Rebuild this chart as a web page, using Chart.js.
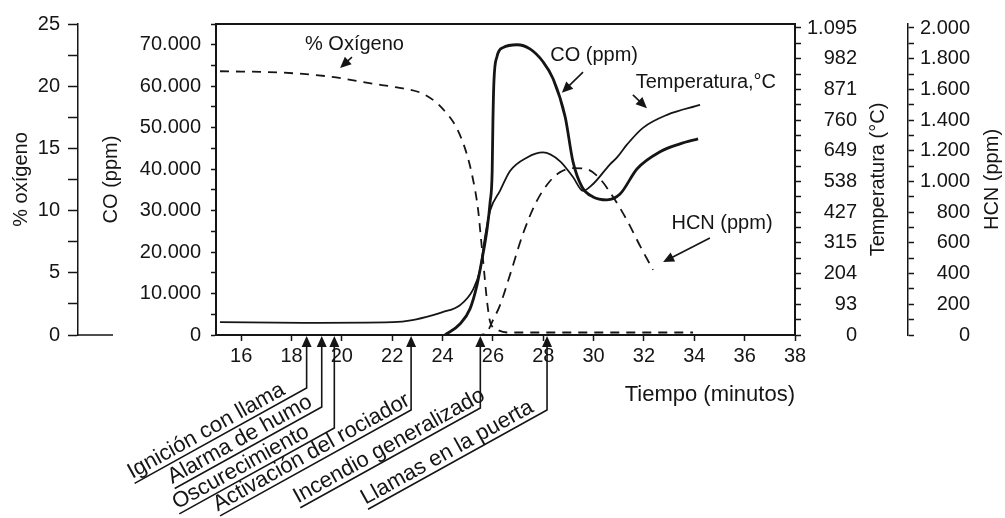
<!DOCTYPE html>
<html>
<head>
<meta charset="utf-8">
<script src="https://cdn.jsdelivr.net/npm/chart.js@4/dist/chart.umd.min.js"></script>
<style>
  html, body { margin: 0; padding: 0; background: #fff; }
  #wrap { width: 1005px; height: 518px; }
</style>
</head>
<body>
<div id="wrap"><canvas id="c" width="1005" height="518"></canvas></div>
<script>
// ---- data ---------------------------------------------------------------
// time axis (minutes)
const timeTicks = [16, 18, 20, 22, 24, 26, 28, 30, 32, 34, 36, 38];

// % oxygen
const o2Time   = [15.16, 17.54, 19.41, 21.24, 22.19, 23.1, 23.62, 24.0, 24.57, 24.97, 25.21, 25.41, 25.49, 25.61, 25.77, 25.89, 26.2, 26.6, 33.95];
const o2Values = [21.2, 21.1, 20.8, 20.2, 19.9, 19.5, 18.9, 18.2, 16.6, 14.5, 12.5, 10.1, 8.5, 6.0, 2.65, 1.05, 0.4, 0.2, 0.2];

// CO (ppm)
const coTime   = [24.1, 24.69, 25.09, 25.37, 25.57, 25.77, 25.89, 25.97, 26.0, 26.04, 26.16, 26.4, 26.96, 27.47, 27.99, 28.39, 28.87, 29.18, 29.54, 29.98, 30.53, 31.05, 31.73, 32.64, 33.43, 34.15];
const coValues = [0, 2650, 6300, 12100, 18300, 25600, 32100, 39300, 51400, 61100, 67100, 69300, 70000, 69000, 65900, 61800, 52600, 41800, 35700, 33300, 32600, 34000, 40100, 44200, 46100, 47300];

// temperature (ºC)
const tempTime   = [15.16, 18.5, 22.03, 22.8, 23.62, 24.0, 24.69, 25.21, 25.49, 25.69, 25.89, 26.28, 26.68, 27.36, 27.99, 28.67, 29.18, 29.58, 29.98, 30.65, 30.93, 31.33, 31.96, 32.92, 34.23];
const tempValues = [39, 37, 39, 45, 60, 69, 90, 146, 218, 339, 433, 504, 576, 625, 643, 611, 554, 504, 529, 600, 625, 672, 732, 779, 815];

// HCN (ppm)
const hcnTime   = [24.6, 25.5, 25.77, 26.0, 26.28, 26.68, 27.2, 27.75, 28.27, 28.67, 29.18, 29.74, 30.26, 30.77, 31.33, 31.85, 32.36];
const hcnValues = [0, 0, 20, 96, 193, 392, 662, 875, 1003, 1061, 1087, 1080, 1016, 900, 746, 579, 424];

// axis labels
const o2TickLabels   = [0, 5, 10, 15, 20, 25];
const coTickLabels   = [0, 10000, 20000, 30000, 40000, 50000, 60000, 70000];
const tempTicks      = [0, 93, 204, 315, 427, 538, 649, 760, 871, 982, 1095];
const hcnTickLabels  = [0, 200, 400, 600, 800, 1000, 1200, 1400, 1600, 1800, 2000];

// events along the time axis
const eventLabels = ['Ignición con llama', 'Alarma de humo', 'Oscurecimiento', 'Activación del rociador', 'Incendio generalizado', 'Llamas en la puerta'];
const eventTimes  = [18.6, 19.2, 19.7, 22.75, 25.5, 28.15];

// ---- helpers ------------------------------------------------------------
const FONT = "'Liberation Sans', Arial, Helvetica, sans-serif";
const INK = '#151515';

const fmt = v => String(Math.round(v)).replace(/\B(?=(\d{3})+(?!\d))/g, '.');
const near = (a, b) => Math.abs(a - b) < 1e-6;

// the temperature scale is evenly spaced between its labelled values
function tempPos(c) {
  for (let i = 1; i < tempTicks.length; i++) {
    if (c <= tempTicks[i]) return i - 1 + (c - tempTicks[i - 1]) / (tempTicks[i] - tempTicks[i - 1]);
  }
  return tempTicks.length - 1;
}

function tickList(from, to, step) {
  const out = [];
  for (let v = from; v <= to + 1e-9; v += step) out.push({ value: +v.toFixed(6) });
  return out;
}

const pts = (xs, ys, f = v => v) => xs.map((x, i) => ({ x, y: f(ys[i]) }));

const tickFont = { family: FONT, size: 20 };
const axisGrid = len => ({ drawOnChartArea: false, drawTicks: true, tickLength: len, color: INK, tickColor: INK, tickWidth: 1.5 });
const axisBorder = { display: true, color: INK, width: 2 };

// ---- in-chart labels with arrows (time, CO-scale height) ----------------
const notes = [
  { text: '% Oxígeno',       at: [20.5, 70000],  tail: [20.4, 67000],  head: [19.93, 64400] },
  { text: 'CO (ppm)',        at: [30.02, 67300], tail: [29.58, 63400], head: [28.74, 58400] },
  { text: 'Temperatura,°C',  at: [34.46, 60800], tail: [31.56, 57900], head: [32.12, 54700] },
  { text: 'HCN (ppm)',       at: [35.1, 26800],  tail: [34.62, 23400], head: [32.76, 17600] }
];
// leader geometry for the event labels (vertical drop, horizontal run)
const eventDrop = [53, 72, 93, 75, 73, 75];
const eventRun  = [172, 147, 155, 191, 180, 179];
const EVENT_ANGLE = 29 * Math.PI / 180;

function arrow(ctx, x0, y0, x1, y1, len = 10, half = 4.5) {
  const a = Math.atan2(y1 - y0, x1 - x0);
  ctx.beginPath();
  ctx.moveTo(x0, y0);
  ctx.lineTo(x1 - Math.cos(a) * len * 0.8, y1 - Math.sin(a) * len * 0.8);
  ctx.stroke();
  ctx.beginPath();
  ctx.moveTo(x1, y1);
  ctx.lineTo(x1 - Math.cos(a) * len - Math.sin(a) * half, y1 - Math.sin(a) * len + Math.cos(a) * half);
  ctx.lineTo(x1 - Math.cos(a) * len + Math.sin(a) * half, y1 - Math.sin(a) * len - Math.cos(a) * half);
  ctx.closePath();
  ctx.fill();
}

const decorations = {
  id: 'decorations',
  afterDraw(chart) {
    const { ctx, chartArea: area, scales } = chart;
    const { x, co, o2, temp, hcn } = scales;
    ctx.save();
    ctx.strokeStyle = INK;
    ctx.fillStyle = INK;

    // frame top
    ctx.lineWidth = 2;
    ctx.beginPath();
    ctx.moveTo(area.left - 1, area.top);
    ctx.lineTo(area.right + 1, area.top);
    ctx.stroke();

    // foot of the oxygen axis
    ctx.lineWidth = 1.5;
    ctx.beginPath();
    ctx.moveTo(o2.right, o2.bottom);
    ctx.lineTo(o2.right + 35, o2.bottom);
    ctx.stroke();

    // right-hand axis titles, reading upwards
    ctx.font = `20px ${FONT}`;
    ctx.textAlign = 'center';
    ctx.textBaseline = 'middle';
    const midY = (area.top + area.bottom) / 2;
    [[temp.right + 21, 'Temperatura (°C)'], [hcn.right + 22, 'HCN (ppm)']].forEach(([tx, t]) => {
      ctx.save();
      ctx.translate(tx, midY);
      ctx.rotate(-Math.PI / 2);
      ctx.fillText(t, 0, 0);
      ctx.restore();
    });

    // series labels with arrows
    ctx.lineWidth = 1.6;
    notes.forEach(n => {
      ctx.fillText(n.text, x.getPixelForValue(n.at[0]), co.getPixelForValue(n.at[1]));
      arrow(ctx, x.getPixelForValue(n.tail[0]), co.getPixelForValue(n.tail[1]),
                 x.getPixelForValue(n.head[0]), co.getPixelForValue(n.head[1]), 11, 5);
    });

    // events below the time axis
    ctx.font = `22px ${FONT}`;
    ctx.textAlign = 'left';
    ctx.textBaseline = 'alphabetic';
    ctx.lineWidth = 1.6;
    const base = area.bottom;
    eventTimes.forEach((t, i) => {
      const ex = x.getPixelForValue(t);
      const yTurn = base + eventDrop[i];
      const sx = ex - eventRun[i];
      const sy = yTurn + eventRun[i] * Math.tan(EVENT_ANGLE);
      ctx.beginPath();
      ctx.moveTo(ex, base + 10);
      ctx.lineTo(ex, yTurn);
      ctx.lineTo(sx, sy);
      ctx.stroke();
      ctx.beginPath();
      ctx.moveTo(ex, base + 1);
      ctx.lineTo(ex - 5, base + 12);
      ctx.lineTo(ex + 5, base + 12);
      ctx.closePath();
      ctx.fill();
      ctx.save();
      ctx.translate(sx, sy);
      ctx.rotate(-EVENT_ANGLE);
      ctx.fillText(eventLabels[i], 0, -5);
      ctx.restore();
    });
    ctx.restore();
  }
};

const lineStyle = {
  borderColor: INK,
  pointRadius: 0,
  fill: false,
  cubicInterpolationMode: 'monotone'
};

new Chart(document.getElementById('c'), {
  type: 'line',
  data: {
    datasets: [
      { ...lineStyle, label: '% Oxígeno', data: pts(o2Time, o2Values), yAxisID: 'o2', borderWidth: 1.8, borderDash: [9, 7] },
      { ...lineStyle, label: 'CO (ppm)', data: pts(coTime, coValues), yAxisID: 'co', borderWidth: 2.8 },
      { ...lineStyle, label: 'Temperatura, °C', data: pts(tempTime, tempValues, tempPos), yAxisID: 'temp', borderWidth: 1.8 },
      { ...lineStyle, label: 'HCN (ppm)', data: pts(hcnTime, hcnValues), yAxisID: 'hcn', borderWidth: 1.8, borderDash: [10, 7] }
    ]
  },
  options: {
    responsive: false,
    animation: false,
    layout: { padding: { top: 24, left: 0, right: 35, bottom: 0 } },
    plugins: { legend: { display: false }, tooltip: { enabled: false } },
    scales: {
      x: {
        type: 'linear', position: 'bottom', min: 15, max: 38,
        afterBuildTicks: s => { s.ticks = timeTicks.map(v => ({ value: v })); },
        afterFit: s => { s.height = 183; },
        grid: axisGrid(6), border: axisBorder,
        ticks: { color: INK, font: tickFont, padding: 3, maxRotation: 0, autoSkip: false },
        title: { display: true, text: 'Tiempo (minutos)', align: 'end', color: INK,
                 font: { family: FONT, size: 22 }, padding: { top: 0, bottom: 110 } }
      },
      co: {
        type: 'linear', position: 'left', min: 0, max: 75000,
        afterBuildTicks: s => { s.ticks = tickList(0, 75000, 5000); },
        afterFit: s => { s.width = 138; },
        grid: axisGrid(5), border: axisBorder,
        ticks: { color: INK, font: tickFont, padding: 10, autoSkip: false,
                 callback: v => coTickLabels.some(l => near(l, v)) ? fmt(v) : '' },
        title: { display: true, text: 'CO (ppm)', color: INK, font: { family: FONT, size: 20 }, padding: { top: 21 } }
      },
      o2: {
        type: 'linear', position: 'left', min: 0, max: 25,
        afterBuildTicks: s => { s.ticks = tickList(0, 25, 2.5); },
        afterFit: s => { s.width = 78; },
        grid: axisGrid(10), border: { display: true, color: INK, width: 1.5 },
        ticks: { color: INK, font: tickFont, padding: 8, autoSkip: false,
                 callback: v => o2TickLabels.some(l => near(l, v)) ? String(Math.round(v)) : '' },
        title: { display: true, text: '% oxígeno', color: INK, font: { family: FONT, size: 20 }, padding: { top: 9 } }
      },
      temp: {
        type: 'linear', position: 'right', min: 0, max: 10.13,
        afterBuildTicks: s => { s.ticks = tickList(0, 10, 0.5); },
        afterFit: s => { s.width = 62; },
        grid: axisGrid(6), border: axisBorder,
        ticks: { color: INK, font: tickFont, padding: 6, autoSkip: false, crossAlign: 'far',
                 callback: v => near(v, Math.round(v)) ? fmt(tempTicks[Math.round(v)]) : '' },
        title: { display: false }
      },
      // room for the temperature title between the two right-hand axes
      tempTitle: {
        type: 'linear', position: 'right', min: 0, max: 1,
        afterFit: s => { s.width = 51; },
        grid: { display: false }, border: { display: false },
        ticks: { display: false }, title: { display: false }
      },
      hcn: {
        type: 'linear', position: 'right', min: 0, max: 2026,
        afterBuildTicks: s => { s.ticks = tickList(0, 2000, 100); },
        afterFit: s => { s.width = 62; },
        grid: axisGrid(6), border: { display: true, color: INK, width: 1.5 },
        ticks: { color: INK, font: tickFont, padding: 6, autoSkip: false, crossAlign: 'far',
                 callback: v => hcnTickLabels.some(l => near(l, v)) ? fmt(v) : '' },
        title: { display: false }
      }
    }
  },
  plugins: [decorations]
});
</script>
</body>
</html>
